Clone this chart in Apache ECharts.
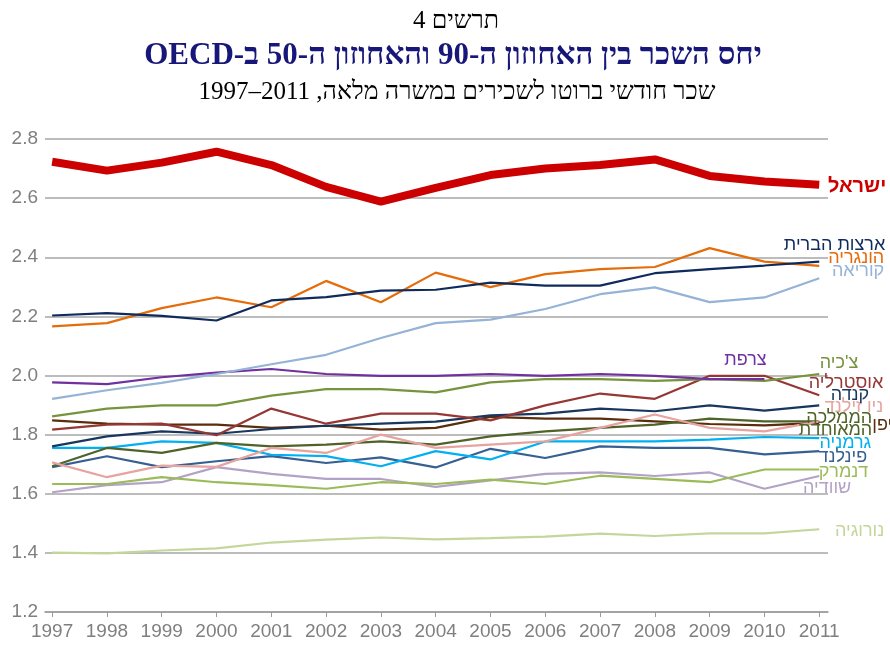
<!DOCTYPE html>
<html>
<head>
<meta charset="utf-8">
<script src="https://cdn.jsdelivr.net/npm/echarts@6/dist/echarts.min.js"></script>
<style>
html,body{margin:0;padding:0;background:#fff;}
#c{width:890px;height:650px;}
</style>
</head>
<body>
<div id="c"></div>
<script>
const years = [1997,1998,1999,2000,2001,2002,2003,2004,2005,2006,2007,2008,2009,2010,2011];
const yTicks = [1.2,1.4,1.6,1.8,2.0,2.2,2.4,2.6,2.8];

const israel    = [2.723,2.693,2.720,2.757,2.712,2.638,2.588,2.635,2.678,2.700,2.712,2.731,2.675,2.656,2.645];
const usa       = [2.203,2.211,2.202,2.186,2.254,2.265,2.287,2.290,2.314,2.304,2.304,2.346,2.360,2.372,2.385];
const hungary   = [2.166,2.177,2.228,2.264,2.231,2.320,2.248,2.348,2.299,2.343,2.360,2.367,2.431,2.385,2.371];
const korea     = [1.921,1.950,1.975,2.005,2.038,2.070,2.127,2.177,2.189,2.225,2.275,2.298,2.248,2.264,2.329];
const france    = [1.977,1.971,1.994,2.010,2.022,2.005,1.999,1.999,2.005,1.999,2.005,1.999,1.988,1.988];
const czech     = [1.862,1.888,1.899,1.899,1.932,1.954,1.954,1.943,1.977,1.988,1.988,1.982,1.988,1.982,2.005];
const australia = [1.817,1.834,1.837,1.798,1.888,1.837,1.871,1.871,1.848,1.899,1.939,1.921,1.999,1.999,1.933];
const canada    = [1.760,1.794,1.811,1.803,1.819,1.830,1.837,1.844,1.865,1.871,1.888,1.879,1.899,1.881,1.899];
const newZealand= [1.706,1.656,1.695,1.691,1.755,1.738,1.800,1.755,1.766,1.777,1.823,1.868,1.823,1.811,1.845];
const uk        = [1.693,1.755,1.738,1.772,1.760,1.766,1.777,1.766,1.794,1.811,1.823,1.834,1.854,1.845,1.845];
const japan     = [1.848,1.837,1.834,1.834,1.823,1.830,1.817,1.823,1.860,1.854,1.854,1.845,1.836,1.831,1.840];
const germany   = [1.755,1.755,1.777,1.772,1.732,1.727,1.693,1.744,1.716,1.777,1.777,1.777,1.783,1.792,1.788];
const finland   = [1.690,1.727,1.690,1.710,1.727,1.704,1.723,1.689,1.752,1.721,1.760,1.755,1.755,1.733,1.744];
const denmark   = [1.633,1.633,1.656,1.639,1.629,1.617,1.639,1.633,1.648,1.633,1.661,1.650,1.639,1.682,1.682];
const sweden    = [1.605,1.629,1.639,1.690,1.667,1.650,1.650,1.623,1.645,1.667,1.672,1.660,1.672,1.617,1.660];
const norway    = [1.401,1.398,1.408,1.415,1.435,1.445,1.452,1.446,1.450,1.455,1.465,1.457,1.466,1.466,1.480];

const seriesDefs = [
  {name:'נורוגיה', data:norway, color:'#C3D69B', off:[65,2]},
  {name:'שוודיה', data:sweden, color:'#B3A2C7', off:[32,12]},
  {name:'דנמרק', data:denmark, color:'#9BBB59', off:[49,3]},
  {name:'פינלנד', data:finland, color:'#376092', off:[48,6]},
  {name:'גרמניה', data:germany, color:'#00B0F0', off:[52,5]},
  {name:'יפן', data:japan, color:'#5A2D0C', off:[73,2]},
  {name:'הממלכה\nהמאוחדת', data:uk, color:'#4F6228', off:[53,3], lh:12},
  {name:'ניו זילנד', data:newZealand, color:'#E6A3A0', off:[64,-14]},
  {name:'קנדה', data:canada, color:'#17375E', off:[50,-10]},
  {name:'אוסטרליה', data:australia, color:'#953735', off:[64,-12]},
  {name:'צ\'כיה', data:czech, color:'#77933C', off:[39,-11]},
  {name:'צרפת', data:france, color:'#7030A0', off:[-19,-19], align:'center'},
  {name:'קוריאה', data:korea, color:'#95B3D7', off:[65,-7]},
  {name:'הונגריה', data:hungary, color:'#E46C0A', off:[65,-8]},
  {name:'ארצות הברית', data:usa, color:'#0F2A5C', off:[66,-17]},
  {name:'ישראל', data:israel, color:'#CC0000', off:[67,2], width:8, bold:true, size:20}
];

const RLE = '\u202B', LRE = '\u202A', PDF = '\u202C';

const series = seriesDefs.map(d => ({
  type:'line',
  name:d.name,
  xAxisIndex:0, yAxisIndex:0,
  data:d.data.map((v,i)=>[years[i], v]),
  symbol:'none',
  lineStyle:{color:d.color, width:d.width||2.2},
  itemStyle:{color:d.color},
  z: d.width ? 5 : 2,
  endLabel:{
    show:true,
    formatter:d.name,
    distance:0,
    align:d.align||'right',
    verticalAlign:'middle',
    offset:d.off,
    color:d.color,
    fontFamily:'Liberation Sans, Arial, sans-serif',
    fontSize:d.size||18,
    fontWeight:d.bold?'bold':'normal',
    lineHeight:d.lh||undefined
  }
}));

// plot area with a small overhang of the gridlines beyond the first and last year
const W = 890, gLeft = 45, gRight = 62, xMin = 1996.87, xMax = 2011.16;
const pxPerYear = (W - gLeft - gRight) / (xMax - xMin);
const labLeft = gLeft + (years[0] - xMin) * pxPerYear;
const labRight = gRight + (xMax - years[years.length-1]) * pxPerYear;

const chart = echarts.init(document.getElementById('c'), null, {renderer:'canvas'});
chart.setOption({
  animation:false,
  backgroundColor:'#fff',
  title:[
    {text:RLE+'תרשים 4'+PDF, left:451, textAlign:'center', top:4, textStyle:{fontFamily:'Liberation Serif, serif', fontSize:25, fontWeight:'normal', color:'#000'}},
    {text:RLE+'יחס השכר בין האחוזון ה-90 והאחוזון ה-50 ב-OECD'+PDF, left:448, textAlign:'center', top:35, textStyle:{fontFamily:'Liberation Serif, serif', fontSize:31, fontWeight:'bold', color:'#17177A'}},
    {text:RLE+'שכר חודשי ברוטו לשכירים במשרה מלאה, '+LRE+'1997–2011'+PDF+PDF, left:452, textAlign:'center', top:75, textStyle:{fontFamily:'Liberation Serif, serif', fontSize:25, fontWeight:'normal', color:'#000'}}
  ],
  grid:[
    {left:gLeft, right:gRight, top:139, bottom:38},
    {left:labLeft, right:labRight, top:139, bottom:38}
  ],
  xAxis:[
    {
      gridIndex:0,
      type:'value',
      min:xMin,
      max:xMax,
      axisLine:{show:true, onZero:false, lineStyle:{color:'#9a9a9a', width:1.5}},
      axisTick:{show:false},
      axisLabel:{show:false},
      splitLine:{show:false}
    },
    {
      gridIndex:1,
      type:'value',
      min:years[0],
      max:years[years.length-1],
      interval:1,
      axisLine:{show:false, onZero:false},
      axisTick:{show:true, length:5, lineStyle:{color:'#9a9a9a', width:1}},
      axisLabel:{formatter:v=>String(v), color:'#7F7F7F', fontSize:19, margin:10, fontFamily:'Liberation Sans Narrow, Liberation Sans, Arial, sans-serif'},
      splitLine:{show:false}
    }
  ],
  yAxis:[
    {
      gridIndex:0,
      type:'value',
      min:1.2,
      max:2.8,
      interval:0.2,
      axisLine:{show:false},
      axisTick:{show:false},
      axisLabel:{formatter:v=>v.toFixed(1), color:'#7F7F7F', fontSize:19, margin:7, fontFamily:'Liberation Sans, Arial, sans-serif'},
      splitLine:{show:true, lineStyle:{color:'#a6a6a6', width:1.5}}
    },
    {
      gridIndex:1,
      type:'value',
      min:1.2,
      max:2.8,
      show:false
    }
  ],
  series:series
});
</script>
</body>
</html>
